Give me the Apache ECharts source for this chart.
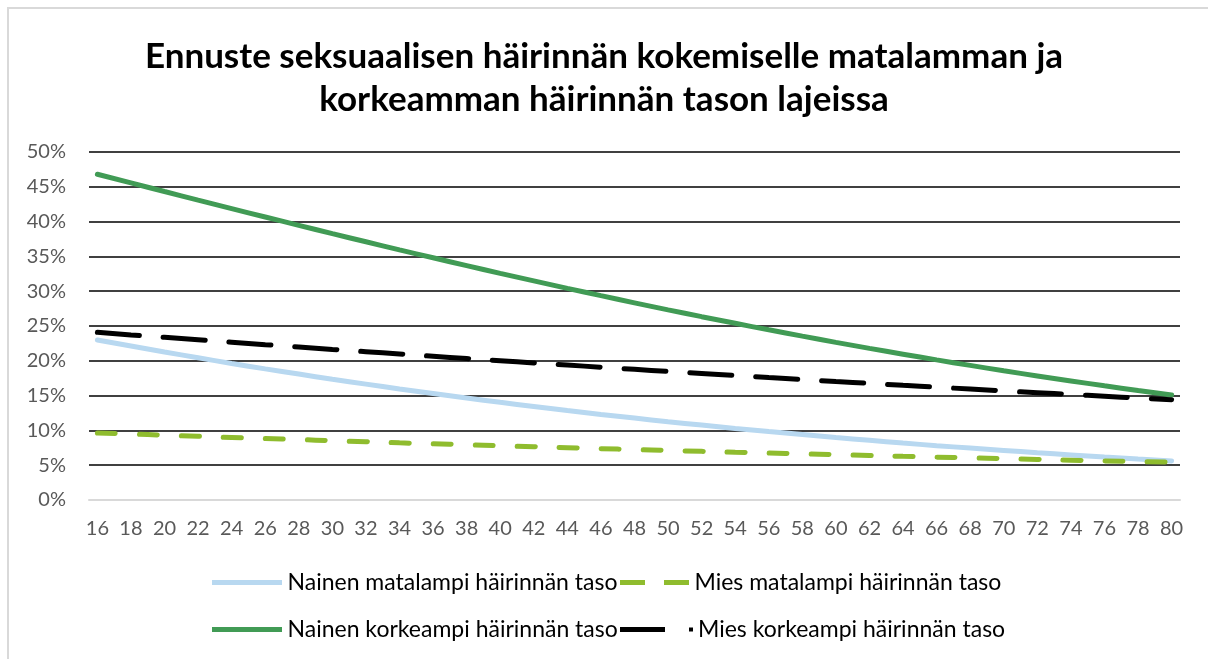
<!DOCTYPE html>
<html>
<head>
<meta charset="utf-8">
<title>Ennuste seksuaalisen häirinnän kokemiselle</title>
<script src="https://cdn.jsdelivr.net/npm/echarts@6/dist/echarts.min.js"></script>
<style>
    html, body { margin: 0; padding: 0; background: #fff; }
    #chart { position: absolute; left: 0; top: 0; width: 1208px; height: 659px; }
    #frame {
        position: absolute; left: 7px; top: 7px; width: 1220px; height: 680px;
        border-left: 2px solid #d9d9d9; border-top: 2px solid #d9d9d9;
        pointer-events: none;
    }
</style>
</head>
<body>
<div id="chart"></div>
<div id="frame"></div>
<script>
// ages on the x axis (every other year, as labelled)
const ages = [16, 18, 20, 22, 24, 26, 28, 30, 32, 34, 36, 38, 40, 42, 44, 46, 48,
    50, 52, 54, 56, 58, 60, 62, 64, 66, 68, 70, 72, 74, 76, 78, 80];

// predicted share, percent
const nainenMatala = [23.00, 22.13, 21.27, 20.44, 19.62, 18.84, 18.09, 17.35, 16.65, 15.95, 15.29,
    14.65, 14.03, 13.44, 12.85, 12.30, 11.77, 11.25, 10.76, 10.28, 9.83, 9.40, 8.97, 8.57,
    8.18, 7.81, 7.46, 7.12, 6.79, 6.48, 6.18, 5.90, 5.62];
const miesMatala = [9.63, 9.48, 9.31, 9.15, 8.98, 8.83, 8.68, 8.52, 8.37, 8.21, 8.07, 7.94, 7.79,
    7.66, 7.52, 7.38, 7.25, 7.12, 6.99, 6.86, 6.75, 6.63, 6.51, 6.39, 6.27, 6.16, 6.05, 5.94,
    5.83, 5.72, 5.62, 5.53, 5.42];
const nainenKorkea = [46.80, 45.56, 44.32, 43.09, 41.87, 40.66, 39.46, 38.27, 37.10, 35.94, 34.80,
    33.67, 32.56, 31.48, 30.41, 29.36, 28.33, 27.32, 26.34, 25.39, 24.45, 23.54, 22.65, 21.79,
    20.95, 20.13, 19.34, 18.57, 17.83, 17.11, 16.41, 15.74, 15.09];
const miesKorkea = [24.09, 23.72, 23.37, 23.02, 22.67, 22.32, 21.98, 21.64, 21.31, 20.98, 20.65,
    20.33, 20.01, 19.70, 19.39, 19.08, 18.77, 18.47, 18.18, 17.89, 17.59, 17.31, 17.02, 16.76,
    16.48, 16.21, 15.94, 15.67, 15.42, 15.16, 14.91, 14.65, 14.41];

const seriesNames = [
    'Nainen matalampi häirinnän taso',
    'Mies matalampi häirinnän taso',
    'Nainen korkeampi häirinnän taso',
    'Mies korkeampi häirinnän taso'
];

const fontFamily = 'Lato, "Open Sans", sans-serif';

// legend keys like the excel ones: solid bar, two dashes, dash + dot
const iconSolid = 'path://M0,0h70v5h-70z';
const iconDashes = 'path://M0,0h25v5h-25z M44,0h25v5h-25z';
const iconDashDot = 'path://M0,0h45v5h-45z M69,0.5h4v4h-4z';

function pairs(values) {
    return ages.map(function (a, i) {
        return [a, values[i]];
    });
}

function makeLine(name, values, color, type) {
    return {
        name: name,
        type: 'line',
        data: pairs(values),
        smooth: true,
        symbol: 'none',
        lineStyle: {color: color, width: 5, type: type, cap: 'round'},
        itemStyle: {color: color},
        emphasis: {disabled: true}
    };
}

function makeLegend(name, icon, left, top, width) {
    return {
        data: [{name: name, icon: icon}],
        left: left,
        top: top,
        itemWidth: width,
        itemHeight: 5,
        padding: 0,
        selectedMode: false,
        textStyle: {fontFamily: fontFamily, fontSize: 23, color: '#000'}
    };
}

const chart = echarts.init(document.getElementById('chart'));

const option = {
    animation: false,
    backgroundColor: '#fff',
    title: {
        text: 'Ennuste seksuaalisen häirinnän kokemiselle matalamman ja\nkorkeamman häirinnän tason lajeissa',
        left: 'center',
        top: 30,
        textStyle: {
            fontFamily: fontFamily,
            fontWeight: 'bold',
            fontSize: 35,
            lineHeight: 43,
            color: '#000'
        }
    },
    legend: [
        makeLegend(seriesNames[0], iconSolid, 212, 571, 71),
        makeLegend(seriesNames[1], iconDashes, 620, 571, 70),
        makeLegend(seriesNames[2], iconSolid, 212, 618, 71),
        makeLegend(seriesNames[3], iconDashDot, 620, 618, 73)
    ],
    grid: {left: 89, right: 28, top: 152, bottom: 159, containLabel: false},
    xAxis: {
        type: 'value',
        min: 15.5,
        max: 80.5,
        interval: 0.5,
        axisTick: {show: false},
        splitLine: {show: false},
        axisLine: {lineStyle: {color: '#d9d9d9', width: 2}},
        axisLabel: {
            color: '#595959',
            fontFamily: fontFamily,
            fontSize: 20,
            margin: 19,
            formatter: function (v) {
                return (Number.isInteger(v) && v % 2 === 0) ? String(v) : '';
            }
        }
    },
    yAxis: {
        type: 'value',
        min: 0,
        max: 50,
        interval: 5,
        axisLine: {show: false},
        axisTick: {show: false},
        splitLine: {showMinLine: false, lineStyle: {color: '#000', width: 1.5}},
        axisLabel: {
            color: '#595959',
            fontFamily: fontFamily,
            fontSize: 20,
            margin: 23,
            formatter: '{value}%'
        }
    },
    series: [
        makeLine(seriesNames[0], nainenMatala, '#b8d8f0', 'solid'),
        makeLine(seriesNames[1], miesMatala, '#8fbc2e', [18, 24]),
        makeLine(seriesNames[2], nainenKorkea, '#419b55', 'solid'),
        makeLine(seriesNames[3], miesKorkea, '#000000', [42, 24])
    ]
};

chart.setOption(option);
</script>
</body>
</html>
